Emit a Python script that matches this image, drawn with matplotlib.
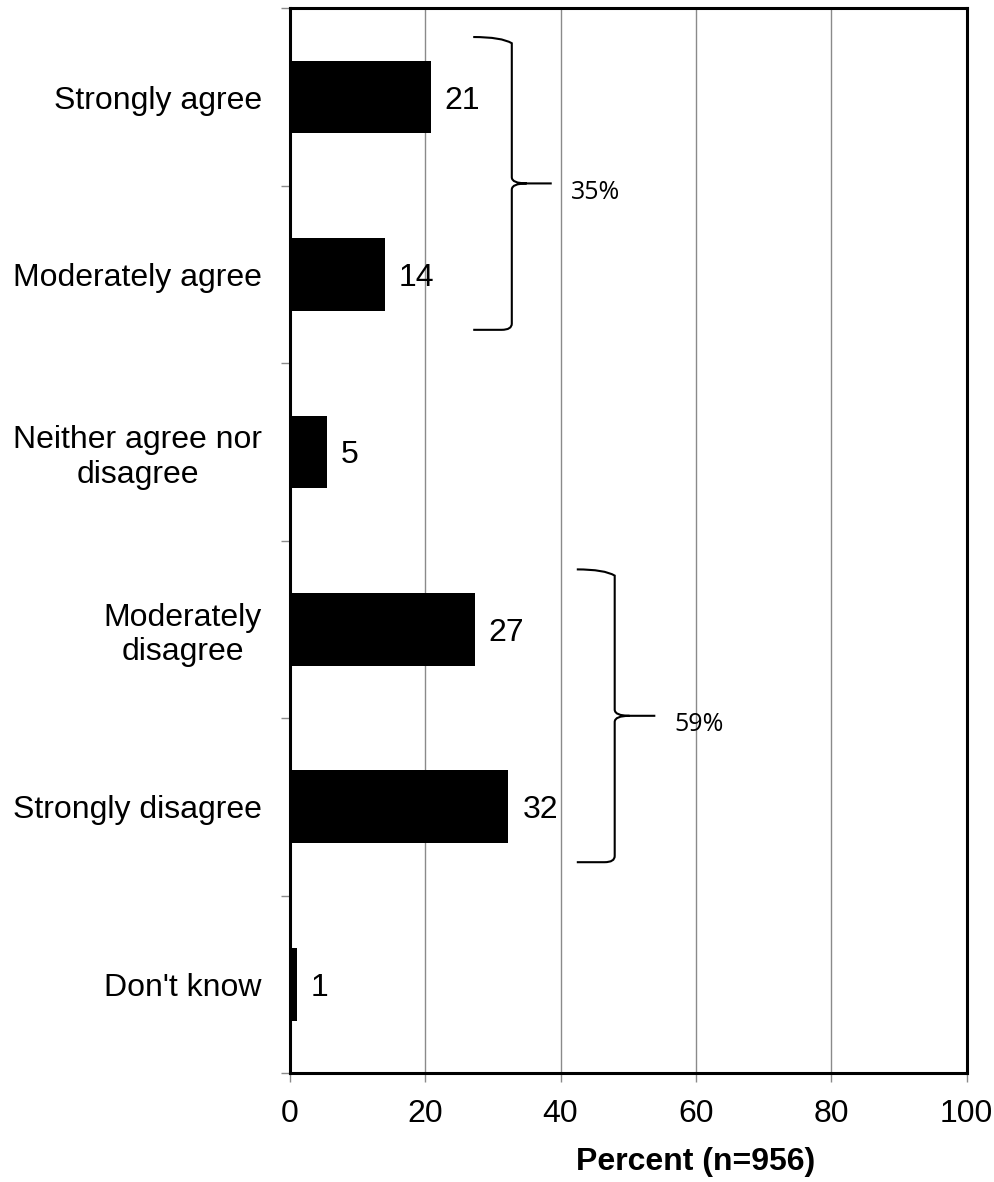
import matplotlib.pyplot as plt
from matplotlib.path import Path
from matplotlib.patches import PathPatch

categories = ['Strongly agree', 'Moderately agree', 'Neither agree nor\ndisagree',
              'Moderately\ndisagree', 'Strongly disagree', "Don't know"]
values = [20.8, 14.1, 5.5, 27.3, 32.3, 1.1]
value_labels = ['21', '14', '5', '27', '32', '1']
xticks = [0, 20, 40, 60, 80, 100]

# groups shown with a curly brace: (first index, last index, label)
groups = [(0, 1, '35%'), (3, 4, '59%')]

plt.rcParams['font.family'] = ['Liberation Sans', 'DejaVu Sans']

fig = plt.figure(figsize=(9.95, 11.82), dpi=100)
ax = fig.add_axes([0.2912, 0.0922, 0.6804, 0.9008])

pos = list(range(len(categories)))
ax.barh(pos, values, height=0.41, color='black', zorder=3)
ax.set_ylim(len(categories) - 0.5, -0.5)
ax.set_xlim(0, 100)

for p, v, lab in zip(pos, values, value_labels):
    ax.annotate(lab, (v, p), xytext=(10, 0), textcoords='offset points',
                va='center_baseline', ha='left', fontsize=23, zorder=4)

# axes styling
for s in ax.spines.values():
    s.set_linewidth(2.2)
    s.set_color('black')
ax.set_xticks(xticks)
ax.xaxis.grid(True, color='#8a8a8a', linewidth=1, zorder=1)
ax.tick_params(axis='x', direction='out', length=6.5, width=1, color='#8a8a8a',
               labelsize=23, pad=12)
ax.set_yticks(pos)
ax.set_yticklabels(categories, fontsize=23, multialignment='center')
ax.set_yticks([p - 0.5 for p in range(len(categories) + 1)], minor=True)
ax.tick_params(axis='y', which='major', length=0, pad=20)
ax.tick_params(axis='y', which='minor', direction='out', length=6.5, width=1,
               color='#8a8a8a')
ax.set_xlabel('Percent (n=956)', fontsize=23, fontweight='bold', labelpad=13, x=0.6)


def brace(ax, x0, xv, xt, y0, y1, r=0.035, dx=2.2):
    ym = (y0 + y1) / 2
    verts = [(x0, y0), (xv - 1.5, y0), (xv, y0 + r),
             (xv, ym - r), (xv, ym), (xv + dx, ym),
             (xt, ym),
             (xv + dx, ym), (xv, ym), (xv, ym + r),
             (xv, y1 - r), (xv, y1), (xv - 1.5, y1),
             (x0, y1)]
    codes = [Path.MOVETO, Path.CURVE3, Path.CURVE3,
             Path.LINETO, Path.CURVE3, Path.CURVE3,
             Path.LINETO,
             Path.MOVETO, Path.CURVE3, Path.CURVE3,
             Path.LINETO, Path.CURVE3, Path.CURVE3,
             Path.LINETO]
    ax.add_patch(PathPatch(Path(verts, codes), fill=False, lw=1.5,
                           edgecolor='black', clip_on=False, zorder=5))


for (i0, i1, lab), (x0, xv, xt, tx) in zip(groups, [(27.1, 32.8, 38.7, 41.5),
                                                   (42.4, 48.0, 54.0, 56.8)]):
    y0 = i0 - 0.338
    y1 = i1 + 0.312
    brace(ax, x0, xv, xt, y0, y1)
    ax.text(tx, (y0 + y1) / 2 + 0.05, lab, fontsize=18, family=['Open Sans', 'DejaVu Sans'],
            va='center', ha='left', zorder=5)

plt.savefig('out.png', dpi=100)
